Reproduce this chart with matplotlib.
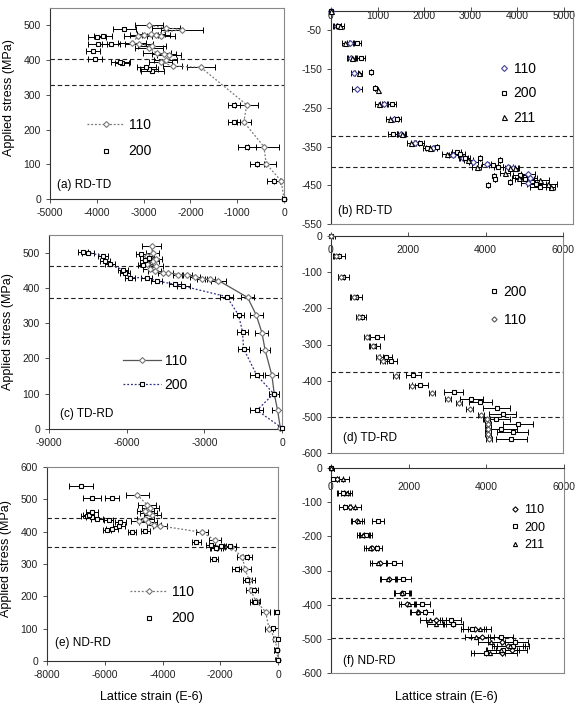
import matplotlib
matplotlib.use("Agg")
import matplotlib.pyplot as plt

plt.rcParams['font.family'] = ['Liberation Sans', 'DejaVu Sans']
plt.rcParams['axes.unicode_minus'] = False

# ---- (a) RD-TD, tension side ----
a110_x = [0, -60, -380, -430, -860, -795, -1776, -2380, -2636, -2528, -2457, -2564, -2708, -2887, -2815,
          -3102, -3245, -3123, -2622, -2994, -2744, -2851, -2185, -2530, -2887]
a110_y = [0, 52, 101, 151, 222, 271, 379, 383, 395, 400, 414, 417, 419, 436, 440,
          447, 449, 468, 468, 471, 471, 474, 488, 493, 500]
a110_e = [40, 150, 200, 330, 150, 250, 300, 200, 250, 250, 250, 250, 300, 300, 300,
          300, 300, 300, 300, 300, 300, 300, 450, 300, 300]
a200_x = [0, -215, -573, -788, -1075, -1075, -2815, -2887, -2945, -3460, -3496, -4033, -4083, -3983,
          -3696, -3997, -3868, -3410]
a200_y = [0, 53, 101, 151, 222, 271, 368, 373, 380, 392, 395, 404, 426, 446, 447, 467, 468, 490]
a200_e = [40, 140, 150, 200, 130, 130, 250, 200, 200, 150, 200, 150, 150, 200, 200, 200, 200, 250]
a_lines = [403, 328]

# ---- (b) RD-TD, compression side ----
b110_x = [0, 130, 414, 430, 500, 557, 1129, 1350, 1500, 1807, 2200, 2629, 2843, 3057, 3343, 3800,
          3914, 4236, 4271, 4236]
b110_y = [0, -40, -82, -122, -160, -201, -241, -279, -317, -342, -355, -372, -380, -389, -396, -404,
          -406, -421, -431, -444]
b110_e = [30, 80, 80, 80, 80, 100, 80, 80, 80, 80, 80, 100, 100, 100, 100, 100, 100, 150, 150, 150]
b200_x = [0, 140, 557, 643, 864, 936, 1307, 1428, 1329, 1914, 2057, 2271, 2700, 2771, 2879, 3200,
          3486, 3629, 3593, 3500, 3521, 3843, 3379, 4057, 4164, 4414, 4486]
b200_y = [0, -40, -82, -122, -158, -198, -241, -279, -317, -342, -355, -351, -364, -368, -380, -379,
          -397, -385, -402, -427, -433, -442, -450, -423, -435, -448, -455]
b200_e = [30, 80, 80, 80, 0, 0, 80, 80, 100, 80, 80, 0, 100, 100, 100, 0,
          100, 0, 100, 0, 0, 0, 0, 150, 200, 200, 200]
b211_x = [0, 200, 307, 450, 593, 1000, 1021, 1271, 1521, 1714, 2129, 2486, 2950, 3129, 3736, 3843,
          3950, 4043, 4486, 4664, 4720]
b211_y = [0, -40, -82, -122, -160, -203, -241, -279, -317, -342, -355, -368, -385, -402, -419, -406,
          -406, -431, -436, -448, -455]
b211_e = [30, 80, 80, 80, 80, 0, 80, 80, 100, 80, 80, 100, 100, 100, 100, 100,
          100, 150, 200, 200, 100]
b_lines = [-322, -403]

# ---- (c) TD-RD, tension side ----
c110_x = [-65, -170, -300, -390, -650, -775, -995, -1330, -2455, -2778, -3100, -3360, -3680, -4006,
          -4393, -4587, -4910, -5100, -4850, -5230, -5000, -4880, -5230, -5000, -5039]
c110_y = [3, 53, 100, 152, 223, 273, 323, 373, 421, 424, 426, 432, 436, 438,
          443, 443, 448, 455, 462, 468, 475, 483, 490, 500, 519]
c110_e = [80, 200, 200, 250, 200, 250, 250, 250, 300, 200, 200, 200, 200, 200,
          200, 200, 250, 250, 250, 250, 250, 250, 250, 250, 350]
c200_x = [0, -970, -320, -970, -1485, -1525, -1680, -2130, -3811, -4134, -4845, -5233, -5880, -6072,
          -6137, -6654, -6848, -6912, -7494, -7690]
c200_y = [3, 53, 100, 152, 228, 276, 323, 375, 405, 410, 420, 429, 429, 443,
          451, 467, 476, 491, 500, 503]
c200_e = [80, 250, 200, 250, 200, 200, 200, 250, 250, 250, 200, 200, 200, 200,
          200, 200, 200, 200, 250, 200]
# 200 peaks measured inside the 110 cluster (not joined by the line)
c200b_x = [-5350, -5300, -5150, -5450]
c200b_y = [465, 478, 485, 495]
c200b_e = [200, 200, 200, 200]
c_lines = [463, 372]

# ---- (d) TD-RD, compression side ----
d200_x = [0, 216, 320, 648, 803, 1183, 1123, 1425, 1554, 2133, 2306, 3169, 3627, 3860, 4292, 4447,
          4275, 4836, 4404, 4706, 4663]
d200_y = [0, -56, -112, -168, -223, -280, -304, -335, -347, -383, -411, -432, -452, -460, -475, -491,
          -507, -521, -535, -542, -561]
d200_e = [100, 150, 150, 150, 100, 200, 150, 150, 150, 200, 200, 250, 300, 300, 350, 350,
          350, 400, 400, 400, 400]
d110_x = [0, 130, 260, 605, 734, 924, 1080, 1252, 1356, 1684, 2098, 2617, 3022, 3307, 3584, 3886,
          4033, 4059, 4070, 4059, 4080]
d110_y = [0, -56, -112, -168, -223, -280, -304, -335, -347, -386, -414, -434, -452, -461, -478, -494,
          -507, -521, -535, -548, -562]
d110_e = [60, 80, 80, 80, 80, 80, 80, 80, 80, 80, 80, 80, 80, 80, 80, 80,
          80, 80, 80, 80, 80]
d_lines = [-375, -500]

# ---- (e) ND-RD, tension side ----
e110_x = [0, -46, -90, -312, -428, -760, -950, -1006, -1145, -1230, -1642, -2104, -2180, -2624, -4092,
          -4300, -4500, -4800, -4600, -4358, -4474, -4590, -4416, -4532, -4879]
e110_y = [2, 35, 69, 100, 152, 185, 219, 252, 284, 321, 354, 349, 374, 398, 418,
          420, 430, 432, 440, 452, 457, 463, 473, 483, 514]
e110_e = [80, 100, 100, 150, 150, 150, 150, 200, 200, 200, 200, 200, 200, 200, 250,
          250, 300, 300, 300, 300, 300, 300, 300, 300, 400]
e200_x = [0, -23, 0, -162, -46, -809, -832, -1064, -1434, -1064, -2220, -1665, -1988, -2162, -2335,
          -2832, -5052, -4590, -5919, -5746, -5514, -5457, -5861, -6266, -6439, -6613, -6555,
          -6439, -6439, -5746, -6821]
e200_y = [2, 35, 67, 102, 152, 183, 219, 252, 286, 321, 315, 356, 356, 349, 359,
          369, 398, 403, 405, 407, 416, 431, 436, 438, 445, 447, 452,
          462, 504, 504, 540]
e200_e = [100, 100, 100, 150, 100, 150, 150, 150, 150, 150, 150, 200, 200, 200, 150,
          150, 150, 150, 150, 200, 200, 200, 150, 200, 200, 200, 200,
          200, 300, 250, 400]
e_lines = [443, 353]

# ---- (f) ND-RD, compression side ----
f_y = [0, -33, -73, -115, -156, -195, -234, -277, -325, -366, -399, -422, -444, -458, -472, -496,
       -510, -522, -532, -540]
f110_x = [0, 150, 330, 480, 660, 860, 1050, 1250, 1500, 1830, 1950, 2250, 2700, 3150, 3700, 3900,
          4400, 4550, 4650, 4400]
f200_x = [0, 60, 300, 360, 1217, 900, 1174, 1620, 1860, 1860, 2356, 2417, 3102, 3145, 3642, 4387,
          4730, 4687, 4430, 4000]
f211_x = [0, 317, 400, 617, 703, 831, 1003, 1217, 1474, 1817, 2000, 2245, 2545, 2716, 3830, 3745,
          4130, 4600, 4387, 4088]
f_e = [80, 150, 150, 150, 150, 150, 150, 200, 200, 200, 200, 200, 250, 250, 300, 300,
       350, 400, 400, 400]
f_lines = [-380, -497]

W, H = 577, 705
fig = plt.figure(figsize=(W / 100, H / 100), dpi=100)


def rect(l, r, t, b):
    return [l / W, 1 - b / H, (r - l) / W, (b - t) / H]


def series(ax, x, y, err, marker, color, ls='none', lc=None, label=None, ms=3.4):
    ax.errorbar(x, y, xerr=err, fmt='none', ecolor='black', elinewidth=0.7,
                capsize=2, capthick=0.7, zorder=2)
    ax.plot(x, y, ls=ls, color=lc or color, lw=0.9, marker=marker, ms=ms, mfc='white',
            mec=color, mew=0.8, label=label, zorder=3, clip_on=False)


def setup(ax, xlim, xticks, ylim, yticks, top_axis=False, pad=2):
    ax.set_xlim(xlim)
    ax.set_ylim(ylim)
    ax.set_xticks(xticks)
    ax.set_yticks(yticks)
    for s in ax.spines.values():
        s.set_color('#888888')
        s.set_linewidth(0.8)
    ax.spines['left'].set_color('#333333')
    ax.tick_params(labelsize=7.5, length=3, width=0.6, colors='#333333', labelcolor='#222222')
    if top_axis:
        ax.spines['top'].set_color('#333333')
        ax.tick_params(axis='x', top=True, bottom=False, labeltop=True, labelbottom=False, pad=pad)
    else:
        ax.spines['bottom'].set_color('#333333')


def hlines(ax, ys):
    for v in ys:
        ax.axhline(v, color='#222222', lw=0.8, ls=(0, (4, 2.5)), zorder=1)


# (a)
ax = fig.add_axes(rect(50, 284, 8, 199))
setup(ax, (-5000, 0), range(-5000, 1, 1000), (0, 550), range(0, 501, 100))
hlines(ax, a_lines)
series(ax, a110_x, a110_y, a110_e, 'D', '#777777', ls=(0, (1.5, 1.5)), label='110', ms=3.0)
series(ax, a200_x, a200_y, a200_e, 's', 'black', label='200')
ax.legend(loc='upper left', bbox_to_anchor=(0.128, 0.461), frameon=False, fontsize=10,
          borderpad=0, handlelength=2.7, handletextpad=0.3, labelspacing=0.9)
ax.text(0.03, 0.073, '(a) RD-TD', transform=ax.transAxes, fontsize=8.5, va='center')
ax.set_ylabel('Applied stress (MPa)', fontsize=9)
ax.yaxis.set_label_coords(-0.15, 0.53)

# (b)
ax = fig.add_axes(rect(331, 573, 11, 224))
setup(ax, (0, 5200), range(0, 5001, 1000), (-550, 0), range(-550, 0, 100), top_axis=True, pad=-10)
hlines(ax, b_lines)
series(ax, b110_x, b110_y, b110_e, 'D', '#40409a', label='110', ms=3.0)
series(ax, b200_x, b200_y, b200_e, 's', 'black', label='200')
series(ax, b211_x, b211_y, b211_e, '^', 'black', label='211', ms=3.6)
ax.legend(loc='upper left', bbox_to_anchor=(0.657, 0.793), frameon=False, fontsize=10,
          borderpad=0, handlelength=1.0, handletextpad=0.2, labelspacing=0.75)
ax.text(0.03, 0.061, '(b) RD-TD', transform=ax.transAxes, fontsize=8.5, va='center')

# (c)
ax = fig.add_axes(rect(49, 282, 235, 429))
setup(ax, (-9000, 0), range(-9000, 1, 3000), (0, 550), range(0, 501, 100))
hlines(ax, c_lines)
series(ax, c110_x, c110_y, c110_e, 'D', '#777777', ls='-', lc='#555555', label='110', ms=3.0)
series(ax, c200_x, c200_y, c200_e, 's', 'black', ls=(0, (1.5, 1.5)), lc='#303080', label='200')
series(ax, c200b_x, c200b_y, c200b_e, 's', 'black')
ax.legend(loc='upper left', bbox_to_anchor=(0.288, 0.423), frameon=False, fontsize=10,
          borderpad=0, handlelength=2.7, handletextpad=0.3, labelspacing=0.7)
ax.text(0.047, 0.077, '(c) TD-RD', transform=ax.transAxes, fontsize=8.5, va='center')
ax.set_ylabel('Applied stress (MPa)', fontsize=9)
ax.yaxis.set_label_coords(-0.15, 0.5)

# (d)
ax = fig.add_axes(rect(331, 563, 236, 453))
setup(ax, (0, 6000), range(0, 6001, 2000), (-600, 0), range(-600, 1, 100), top_axis=True, pad=-17)
hlines(ax, d_lines)
series(ax, d200_x, d200_y, d200_e, 's', 'black', label='200', ms=3.0)
series(ax, d110_x, d110_y, d110_e, 'D', '#555555', label='110', ms=2.7)
ax.legend(loc='upper left', bbox_to_anchor=(0.642, 0.806), frameon=False, fontsize=10,
          borderpad=0, handlelength=1.0, handletextpad=0.2, labelspacing=1.0)
ax.text(0.05, 0.069, '(d) TD-RD', transform=ax.transAxes, fontsize=8.5, va='center')

# (e)
ax = fig.add_axes(rect(47, 278, 467, 661))
setup(ax, (-8000, 0), range(-8000, 1, 2000), (0, 600), range(0, 601, 100))
hlines(ax, e_lines)
series(ax, e110_x, e110_y, e110_e, 'D', '#777777', ls=(0, (1.5, 1.5)), label='110', ms=3.0)
series(ax, e200_x, e200_y, e200_e, 's', 'black', label='200', ms=3.2)
ax.legend(loc='upper left', bbox_to_anchor=(0.329, 0.428), frameon=False, fontsize=10,
          borderpad=0, handlelength=2.7, handletextpad=0.3, labelspacing=0.9)
ax.text(0.035, 0.093, '(e) ND-RD', transform=ax.transAxes, fontsize=8.5, va='center')
ax.set_ylabel('Applied stress (MPa)', fontsize=9)
ax.yaxis.set_label_coords(-0.15, 0.53)

# (f)
ax = fig.add_axes(rect(331, 564, 468, 673))
setup(ax, (0, 6000), range(0, 6001, 2000), (-600, 0), range(-600, 1, 100), top_axis=True, pad=-20)
hlines(ax, f_lines)
series(ax, f110_x, f_y, f_e, 'D', 'black', label='110', ms=2.7)
series(ax, f200_x, f_y, f_e, 's', 'black', label='200', ms=3.0)
series(ax, f211_x, f_y, f_e, '^', 'black', label='211', ms=3.0)
ax.legend(loc='upper left', bbox_to_anchor=(0.738, 0.854), frameon=False, fontsize=9,
          borderpad=0, handlelength=1.0, handletextpad=0.2, labelspacing=0.45)
ax.text(0.05, 0.059, '(f) ND-RD', transform=ax.transAxes, fontsize=8.5, va='center')

fig.text(151 / W, 1 - 697 / H, 'Lattice strain (E-6)', fontsize=9, ha='center', va='center')
fig.text(446 / W, 1 - 697 / H, 'Lattice strain (E-6)', fontsize=9, ha='center', va='center')

fig.savefig('out.png', dpi=100)
